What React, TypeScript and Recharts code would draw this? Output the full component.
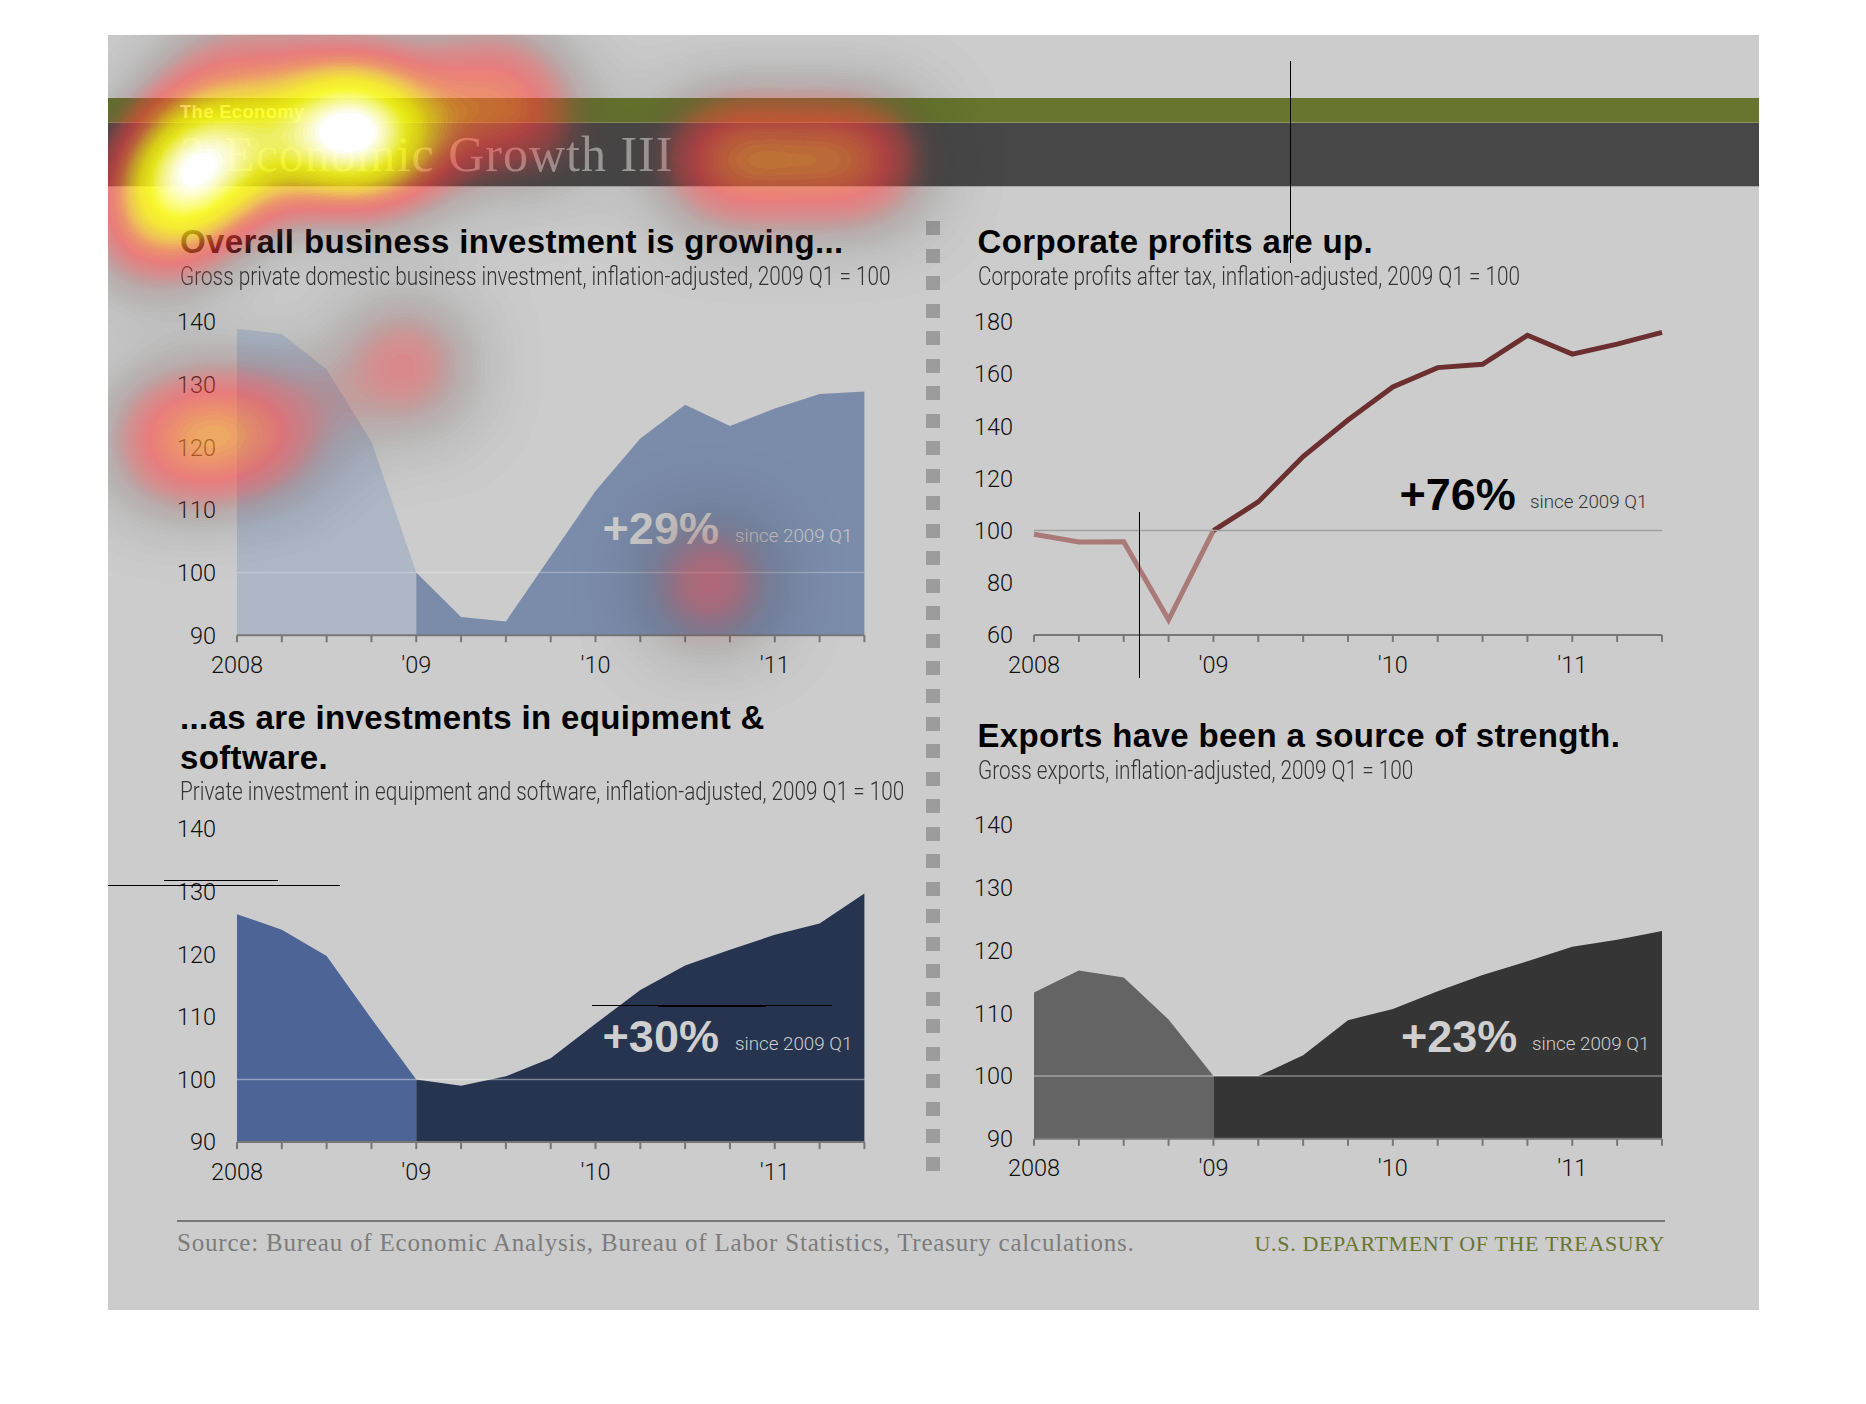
import React from "react";
import { Area, ComposedChart, Line, ReferenceLine, XAxis, YAxis } from "recharts";

const quarters = [
  "2008Q1", "2008Q2", "2008Q3", "2008Q4",
  "2009Q1", "2009Q2", "2009Q3", "2009Q4",
  "2010Q1", "2010Q2", "2010Q3", "2010Q4",
  "2011Q1", "2011Q2", "2011Q3",
];
const yearLabels: Record<string, string> = {
  "2008Q1": "2008",
  "2009Q1": "'09",
  "2010Q1": "'10",
  "2011Q1": "'11",
};

const businessInvestment = [138.9, 138.1, 132.4, 120.9, 100, 92.9, 92.2, 102.6, 113, 121.4, 126.8, 123.4, 126.2, 128.5, 128.9];
const corporateProfits = [98.6, 95.6, 95.7, 65.8, 100, 111, 128.4, 142.4, 155.1, 162.5, 163.8, 174.9, 167.7, 171.5, 176];
const equipmentSoftware = [126.4, 123.9, 119.7, 109.7, 100, 99, 100.5, 103.4, 108.9, 114.3, 118.2, 120.7, 123.1, 124.9, 129.7];
const exportsGross = [113.3, 116.8, 115.7, 109, 100, 100, 103.3, 108.9, 110.7, 113.5, 116.1, 118.3, 120.6, 121.7, 123.1];

const indexTicks = [90, 100, 110, 120, 130, 140];
const profitTicks = [60, 80, 100, 120, 140, 160, 180];

// attention overlay: x, y, strength
const heatSpots = [
  [194, 165, 0.72], [357, 134, 0.8], [277, 145, 0.3], [155, 225, 0.36],
  [230, 65, 0.22], [345, 60, 0.1], [490, 85, 0.3], [540, 130, 0.2], [425, 150, 0.16],
  [720, 160, 0.37], [865, 160, 0.37], [790, 160, 0.22],
  [405, 366, 0.32], [175, 440, 0.4], [265, 432, 0.35], [710, 583, 0.32],
];

const rows = (values: number[]) =>
  quarters.map((q, i) => ({
    q,
    before: i <= 4 ? values[i] : null,
    after: i >= 4 ? values[i] : null,
  }));

const SANS = "'Liberation Sans', Arial, sans-serif";
const LIGHT = "Roboto, 'Liberation Sans', sans-serif";
const SERIF = "'Liberation Serif', serif";

function Txt({ x, y, right, size, color, font = SANS, weight = 400, spacing = 0, squeeze = 1, children }: any) {
  return (
    <div
      style={{
        position: "absolute",
        left: right === undefined ? x : undefined,
        right: right === undefined ? undefined : 1866 - right,
        top: y - size,
        height: size * 2,
        lineHeight: `${size * 2}px`,
        fontSize: size,
        fontFamily: font,
        fontWeight: weight,
        letterSpacing: spacing,
        color,
        whiteSpace: "nowrap",
        transform: squeeze === 1 ? undefined : `scaleX(${squeeze})`,
        transformOrigin: "left center",
      }}
    >
      {children}
    </div>
  );
}

function Title({ x, y, children }: any) {
  return <Txt x={x} y={y} size={33} weight={700} spacing={0.35} color="#000">{children}</Txt>;
}

function Sub({ x, y, children }: any) {
  return <Txt x={x} y={y} size={25} font={LIGHT} weight={300} squeeze={0.83} color="#333">{children}</Txt>;
}

function Rule({ x, y, w, h, color }: any) {
  return <div style={{ position: "absolute", left: x, top: y, width: w, height: h, background: color }} />;
}

function Panel({ left, right, top, bottom, values, ticks, line, light, dark, refColor }: any) {
  const chartLeft = left - 100;
  const chartTop = top - 20;
  const width = right + 40 - chartLeft;
  const height = bottom + 50 - chartTop;
  const tickStyle = { fontSize: 23.5, fontFamily: LIGHT, fontWeight: 300, fill: "#111" };
  return (
    <div style={{ position: "absolute", left: chartLeft, top: chartTop }}>
      <ComposedChart
        width={width}
        height={height}
        data={rows(values)}
        margin={{ top: 20, right: 40, bottom: 0, left: 0 }}
      >
        <XAxis
          dataKey="q"
          scale="point"
          interval={0}
          height={50}
          tickSize={7}
          tickMargin={14}
          tick={tickStyle}
          stroke="#777"
          strokeWidth={2}
          tickFormatter={(q: string) => yearLabels[q] ?? ""}
        />
        <YAxis
          width={100}
          domain={[ticks[0], ticks[ticks.length - 1]]}
          ticks={ticks}
          axisLine={false}
          tickLine={false}
          tickMargin={21}
          tickSize={0}
          tick={tickStyle}
        />
        {line ? (
          <>
            <Line dataKey="before" stroke={light} strokeWidth={5} dot={false} connectNulls={false} isAnimationActive={false} />
            <Line dataKey="after" stroke={dark} strokeWidth={5} dot={false} connectNulls={false} isAnimationActive={false} />
          </>
        ) : (
          <>
            <Area dataKey="before" fill={light} fillOpacity={1} stroke="none" dot={false} activeDot={false} isAnimationActive={false} />
            <Area dataKey="after" fill={dark} fillOpacity={1} stroke="none" dot={false} activeDot={false} isAnimationActive={false} />
          </>
        )}
        <ReferenceLine y={100} stroke={refColor} strokeWidth={1.5} />
      </ComposedChart>
    </div>
  );
}

function Callout({ x, sinceX, y, label, color, sinceColor }: any) {
  return (
    <>
      <Txt x={x} y={y} size={45} weight={700} color={color}>{label}</Txt>
      <Txt x={sinceX} y={y + 8} size={18.8} font={LIGHT} weight={300} color={sinceColor}>since 2009 Q1</Txt>
    </>
  );
}

// blurred density turned into a heat colour ramp, cut off at the page panel
function Heat() {
  const r = "0 .16 .47 .86 1 1 1 1 1 1 1";
  const g = "0 .16 .24 .24 .24 .43 .75 .94 1 1 1";
  const b = "0 .16 .24 .24 .24 .2 .12 .04 .08 .55 1";
  const a = "0 .08 .22 .42 .56 .62 .68 .78 .86 .94 1";
  return (
    <svg
      width={1866}
      height={1404}
      style={{ position: "absolute", left: 0, top: 0, pointerEvents: "none", clipPath: "inset(34.5px 107px 94px 108px)" }}
    >
      <defs>
        <filter id="heat" x="0" y="0" width="1866" height="1404" filterUnits="userSpaceOnUse" colorInterpolationFilters="sRGB">
          <feGaussianBlur stdDeviation="50" />
          <feComponentTransfer>
            <feFuncA type="linear" slope="3.7" />
          </feComponentTransfer>
          <feColorMatrix type="matrix" values="0 0 0 1 0  0 0 0 1 0  0 0 0 1 0  0 0 0 1 0" />
          <feComponentTransfer>
            <feFuncR type="table" tableValues={r} />
            <feFuncG type="table" tableValues={g} />
            <feFuncB type="table" tableValues={b} />
            <feFuncA type="table" tableValues={a} />
          </feComponentTransfer>
        </filter>
      </defs>
      <g filter="url(#heat)">
        {heatSpots.map(([x, y, s], i) => (
          <circle key={i} cx={x} cy={y} r={40} fill="#fff" fillOpacity={s} />
        ))}
      </g>
    </svg>
  );
}

export default function App() {
  return (
    <div style={{ position: "absolute", left: 0, top: 0, width: 1866, height: 1404, background: "#fff", overflow: "hidden" }}>
      <Rule x={108} y={34.5} w={1651} h={1275.5} color="#cccccc" />
      <Rule x={108} y={97.5} w={1651} h={25} color="#67752e" />
      <Rule x={108} y={122.5} w={1651} h={63.5} color="#474747" />
      <Rule x={108} y={122} w={1651} h={1} color="#8b9560" />
      <Rule x={108} y={186} w={1651} h={1} color="#a8a8a8" />

      <Txt x={180} y={111} size={18.5} weight={700} spacing={0.3} color="#f0f0f0">The Economy</Txt>
      <Txt x={180} y={154} size={50} font={SERIF} color="#a6a6a6">3</Txt>
      <Txt x={224} y={154} size={50} font={SERIF} spacing={1} color="#a6a6a6">Economic Growth III</Txt>

      {Array.from({ length: 35 }).map((_, i) => (
        <Rule key={i} x={926} y={221 + i * 27.53} w={14} h={14} color="#9c9c9c" />
      ))}

      <Title x={180} y={242}>Overall business investment is growing...</Title>
      <Sub x={180} y={277}>Gross private domestic business investment, inflation-adjusted, 2009 Q1 = 100</Sub>
      <Panel left={237} right={864.4} top={321.5} bottom={634.7} values={businessInvestment} ticks={indexTicks} light="#aeb7c6" dark="#7b8cab" refColor="rgba(255,255,255,.25)" />
      <Callout x={602.6} sinceX={735} y={529} label="+29%" color="#cfcfcf" sinceColor="#c8c8c8" />

      <Title x={977.5} y={242}>Corporate profits are up.</Title>
      <Sub x={977.5} y={277}>Corporate profits after tax, inflation-adjusted, 2009 Q1 = 100</Sub>
      <Panel left={1034.3} right={1662.3} top={321.8} bottom={634.7} values={corporateProfits} ticks={profitTicks} line light="#a97a78" dark="#6b2f2f" refColor="#a0a0a0" />
      <Callout x={1399.4} sinceX={1530} y={494.5} label="+76%" color="#000" sinceColor="#333" />

      <Title x={180} y={718}>...as are investments in equipment &amp;</Title>
      <Title x={180} y={758}>software.</Title>
      <Sub x={180} y={791.5}>Private investment in equipment and software, inflation-adjusted, 2009 Q1 = 100</Sub>
      <Panel left={237} right={864.4} top={829.4} bottom={1142.5} values={equipmentSoftware} ticks={indexTicks} light="#4c6596" dark="#263450" refColor="rgba(255,255,255,.4)" />
      <Callout x={602.6} sinceX={735} y={1037} label="+30%" color="#cfcfcf" sinceColor="#cfcfcf" />

      <Title x={977.5} y={736}>Exports have been a source of strength.</Title>
      <Sub x={977.5} y={770.5}>Gross exports, inflation-adjusted, 2009 Q1 = 100</Sub>
      <Panel left={1034.3} right={1662.3} top={825} bottom={1138.8} values={exportsGross} ticks={indexTicks} light="#646464" dark="#353535" refColor="rgba(255,255,255,.4)" />
      <Callout x={1401} sinceX={1532} y={1037} label="+23%" color="#cfcfcf" sinceColor="#cfcfcf" />

      <Rule x={177} y={1220} w={1488} h={2} color="#777" />
      <Txt x={177} y={1243} size={25} font={SERIF} spacing={0.8} color="#7c7c7c">Source: Bureau of Economic Analysis, Bureau of Labor Statistics, Treasury calculations.</Txt>
      <Txt right={1665} y={1244} size={22} font={SERIF} spacing={0.65} color="#6a7530">U.S. DEPARTMENT OF THE TREASURY</Txt>

      <Heat />

      <Rule x={1290} y={61} w={1} h={202} color="#000" />
      <Rule x={1138.5} y={512} w={1} h={166} color="#000" />
      <Rule x={108} y={885} w={232} h={1} color="#000" />
      <Rule x={164} y={880} w={114} h={1} color="#000" />
      <Rule x={592} y={1005} w={240} h={1} color="#000" />
      <Rule x={658} y={1005} w={108} h={2} color="#000" />
    </div>
  );
}
